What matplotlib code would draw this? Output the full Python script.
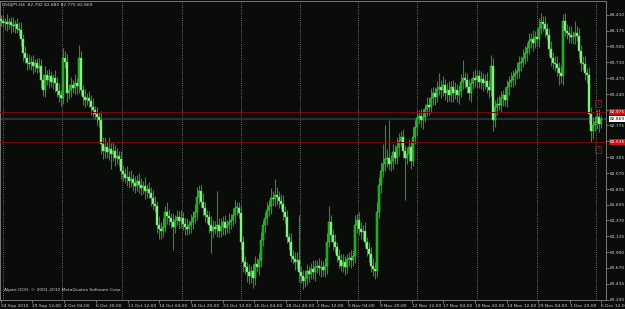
import numpy as np
import matplotlib.pyplot as plt

# USDJPY H4 candles (close per bar, open = previous close)
first_open = 84.35
closes = [
    84.32, 84.29, 84.31, 84.27, 84.30, 84.26, 84.24, 84.27, 84.21, 84.19,
    84.05, 83.85, 83.78, 83.70, 83.68, 83.72, 83.66, 83.70, 83.63, 83.66,
    83.45, 83.30, 83.52, 83.45, 83.50, 83.42, 83.48, 83.40, 83.28, 83.22,
    83.18, 83.78, 83.72, 83.25, 83.30, 83.38, 83.33, 83.40, 83.36, 83.78,
    83.30, 83.20, 83.15, 83.18, 83.14, 83.05, 83.00, 82.95, 82.90, 82.85,
    82.50, 82.40, 82.45, 82.38, 82.42, 82.35, 82.40, 82.30, 82.33, 82.28,
    82.10, 82.05, 82.00, 82.02, 81.95, 81.98, 81.92, 81.88, 81.95, 81.90,
    81.85, 81.88, 81.80, 81.84, 81.78, 81.70, 81.62, 81.58, 81.30, 81.25,
    81.22, 81.28, 81.50, 81.44, 81.40, 81.35, 81.28, 81.38, 81.42, 81.36,
    81.40, 81.32, 81.28, 81.25, 81.30, 81.35, 81.42, 81.50, 81.72, 81.80,
    81.65, 81.55, 81.45, 81.42, 81.30, 81.22, 81.28, 81.25, 81.30, 81.22,
    81.28, 81.35, 81.26, 81.30, 81.35, 81.38, 81.45, 81.55, 81.55, 81.48,
    81.05, 80.75, 80.68, 80.60, 80.55, 80.62, 80.52, 80.72, 80.68, 80.78,
    81.08, 81.30, 81.40, 81.52, 81.58, 81.70, 81.68, 81.75, 81.72, 81.66,
    81.62, 81.50, 81.42, 81.12, 81.05, 80.85, 80.80, 80.75, 80.78, 80.60,
    80.55, 80.48, 80.52, 80.62, 80.58, 80.65, 80.60, 80.68, 80.70, 80.66,
    80.68, 80.64, 80.70, 81.05, 81.35, 81.15, 81.05, 80.98, 80.85, 80.78,
    80.70, 80.75, 80.68, 80.80, 80.82, 80.78, 80.84, 81.30, 81.38, 81.25,
    81.20, 81.22, 81.05, 80.95, 80.88, 80.70, 80.65, 80.62, 81.50, 81.90,
    82.10, 82.20, 82.28, 82.30, 82.20, 82.25, 82.38, 82.30, 82.45, 82.55,
    82.60, 82.40, 82.30, 82.35, 82.45, 82.25, 82.60, 82.75, 82.88, 82.92,
    82.85, 82.90, 83.02, 83.08, 83.05, 83.18, 83.25, 83.20, 83.32, 83.35,
    83.30, 83.38, 83.25, 83.30, 83.22, 83.35, 83.25, 83.30, 83.22, 83.28,
    83.42, 83.48, 83.45, 83.35, 83.25, 83.40, 83.48, 83.45, 83.50, 83.42,
    83.46, 83.40, 83.44, 83.35, 83.30, 83.65, 82.85, 83.05, 83.10, 83.08,
    83.18, 83.22, 83.15, 83.35, 83.42, 83.45, 83.50, 83.55, 83.58, 83.70,
    83.72, 83.78, 83.85, 83.92, 84.02, 84.05, 84.00, 84.08, 84.05, 84.22,
    84.30, 84.28, 84.20, 84.12, 83.90, 83.78, 83.70, 83.68, 83.62, 83.55,
    83.50, 84.32, 84.18, 84.15, 84.12, 84.08, 84.10, 84.14, 84.10, 83.88,
    83.70, 83.68, 83.55, 83.52, 82.95, 82.70, 82.78, 82.82, 82.90, 82.80, 82.869,
]
# wick lengths above / below the body, in hundredths of a yen
up_wick = [
    6, 9, 5, 11, 7, 8, 12, 6, 9, 10,
    12, 8, 10, 7, 13, 9, 10, 6, 8, 12,
    10, 9, 14, 7, 11, 8, 6, 12, 9, 13,
    8, 14, 10, 12, 9, 11, 7, 13, 8, 19,
    10, 8, 12, 7, 11, 9, 13, 6, 10, 8,
    14, 10, 16, 9, 18, 10, 13, 8, 11, 7,
    12, 9, 10, 16, 8, 13, 7, 11, 9, 12,
    10, 8, 13, 7, 10, 9, 12, 11, 8, 14,
    10, 12, 9, 15, 10, 8, 13, 7, 11, 9,
    12, 10, 8, 13, 7, 11, 9, 12, 14, 10,
    9, 12, 10, 7, 9, 13, 10, 8, 50, 10,
    12, 9, 10, 7, 13, 8, 10, 12, 9, 10,
    12, 9, 10, 7, 12, 8, 10, 13, 9, 11,
    12, 8, 10, 12, 9, 15, 10, 24, 12, 8,
    10, 12, 9, 11, 7, 13, 9, 10, 12, 67,
    10, 8, 12, 10, 7, 9, 13, 10, 8, 12,
    10, 9, 12, 14, 23, 10, 9, 12, 7, 10,
    9, 12, 10, 7, 8, 12, 10, 15, 9, 12,
    10, 8, 13, 7, 10, 9, 12, 10, 15, 12,
    14, 30, 50, 12, 55, 9, 12, 10, 15, 12,
    10, 12, 9, 10, 13, 8, 15, 10, 12, 9,
    10, 12, 8, 11, 12, 15, 10, 9, 12, 20,
    10, 12, 9, 10, 13, 8, 10, 12, 9, 10,
    12, 26, 9, 10, 12, 8, 10, 13, 9, 10,
    12, 9, 10, 13, 8, 17, 12, 10, 9, 12,
    10, 8, 12, 10, 9, 12, 10, 8, 13, 10,
    9, 12, 10, 8, 12, 10, 14, 9, 12, 15,
    14, 10, 12, 9, 10, 12, 8, 10, 12, 9,
    10, 10, 12, 9, 10, 12, 8, 18, 10, 12,
    9, 10, 12, 8, 12, 10, 12, 9, 10, 12, 6,
]
dn_wick = [
    8, 6, 10, 9, 6, 12, 8, 10, 7, 9,
    10, 12, 8, 10, 7, 9, 12, 10, 8, 7,
    12, 9, 10, 7, 12, 8, 10, 13, 9, 10,
    12, 8, 10, 12, 9, 10, 7, 9, 12, 10,
    8, 12, 10, 7, 9, 12, 10, 8, 12, 10,
    15, 12, 10, 9, 12, 22, 10, 12, 9, 10,
    12, 10, 8, 12, 10, 9, 12, 10, 8, 12,
    10, 9, 12, 10, 8, 12, 10, 9, 12, 15,
    12, 10, 8, 12, 10, 9, 35, 10, 8, 12,
    10, 9, 12, 10, 8, 12, 10, 9, 12, 10,
    8, 12, 10, 9, 12, 33, 10, 8, 12, 10,
    9, 12, 10, 8, 12, 10, 9, 12, 10, 8,
    12, 15, 10, 14, 12, 10, 15, 10, 8, 12,
    10, 9, 12, 10, 8, 12, 10, 9, 12, 10,
    8, 12, 10, 9, 12, 10, 8, 12, 10, 14,
    10, 12, 9, 10, 12, 8, 10, 12, 9, 10,
    12, 9, 10, 12, 8, 10, 12, 9, 10, 12,
    8, 10, 12, 9, 10, 12, 8, 10, 12, 9,
    10, 12, 8, 10, 12, 9, 10, 12, 8, 10,
    12, 9, 10, 12, 8, 10, 12, 9, 10, 12,
    8, 10, 63, 9, 10, 12, 8, 10, 12, 9,
    10, 12, 8, 10, 12, 9, 10, 12, 8, 10,
    12, 9, 10, 12, 8, 10, 12, 9, 10, 12,
    8, 10, 12, 9, 10, 12, 8, 10, 12, 9,
    10, 12, 8, 10, 12, 9, 15, 10, 12, 8,
    10, 12, 9, 10, 12, 8, 10, 12, 9, 10,
    12, 8, 10, 12, 9, 10, 12, 8, 10, 12,
    9, 10, 12, 8, 10, 12, 9, 10, 12, 17,
    10, 12, 8, 10, 12, 9, 10, 12, 8, 10,
    12, 9, 10, 12, 15, 17, 12, 8, 10, 12, 6,
]

price_ticks = [84.410, 84.175, 83.945, 83.710, 83.475, 83.240, 83.005, 82.775,
               82.540, 82.305, 82.070, 81.835, 81.605, 81.370, 81.135, 80.900,
               80.670, 80.435, 80.200]
hidden_ticks = [83.005, 82.540]  # covered by the alert price boxes
time_labels = ["24 Sep 2010", "29 Sep 12:00", "4 Oct 04:00", "6 Oct 20:00",
               "11 Oct 12:00", "14 Oct 04:00", "18 Oct 20:00", "21 Oct 12:00",
               "26 Oct 04:00", "28 Oct 20:00", "2 Nov 12:00", "5 Nov 04:00",
               "9 Nov 20:00", "12 Nov 12:00", "17 Nov 04:00", "19 Nov 20:00",
               "24 Nov 12:00", "29 Nov 04:00", "1 Dec 20:00", "6 Dec 12:00"]
time_label_bars = [0, 15.5, 31.5, 47.5, 63.5, 79, 95, 111, 126.5, 142.5, 158,
                   173.5, 189.5, 205.5, 221, 237, 253, 268.5, 284.5, 300]
week_start_bars = [1, 30.5, 60.5, 90.5, 120, 149.5, 178.5, 208, 238, 268, 297.5]

alert_high = 82.975
alert_low = 82.535
bid = 82.869
title = "USDJPY,H4  82.792 82.880 82.775 82.869"

bg = "#090c09"
txt = "#cfd3cf"

c = np.array(closes)
o = np.concatenate([[first_open], c[:-1]])
hi = np.maximum(o, c) + np.array(up_wick) / 100
lo = np.minimum(o, c) - np.array(dn_wick) / 100
x = np.arange(len(c))
bull = c >= o

fig = plt.figure(figsize=(6.25, 3.09), dpi=100, facecolor=bg)
ax = fig.add_axes([0, 9 / 309, 606 / 625, 299 / 309], facecolor=bg)

# weekly grid
for g in week_start_bars:
    ax.axvline(g, color="#8c8c8c", lw=0.6, ls=(0, (1, 1.6)), zorder=1)

ax.axhline(bid, color="#2a2f33", lw=1.6, zorder=1)
ax.axhline(alert_high, color="#780808", lw=0.7, zorder=4)
ax.axhline(alert_low, color="#780808", lw=0.7, zorder=4)

ax.vlines(x, lo, hi, color="#14a014", lw=0.8, zorder=2)
body_h = np.maximum(np.abs(c - o), 0.015)
ax.bar(x[bull], body_h[bull], bottom=np.minimum(o, c)[bull], width=0.95,
       color="#1f9a1f", edgecolor="#44e044", linewidth=0.3, zorder=3)
ax.bar(x[~bull], body_h[~bull], bottom=np.minimum(o, c)[~bull], width=0.95,
       color="#9cee9c", edgecolor="#44e044", linewidth=0.3, zorder=3)

ax.set_xlim(-0.5, 302.5)
ax.set_ylim(80.193, 84.617)

ax.yaxis.tick_right()
ax.set_yticks(price_ticks)
ax.set_yticklabels(["" if p in hidden_ticks else "%.3f" % p for p in price_ticks])
ax.set_xticks(time_label_bars)
ax.set_xticklabels(time_labels)
for lab in ax.get_xticklabels():
    lab.set_ha("left")
ax.tick_params(axis="both", colors="#9a9a9a", labelcolor=txt, labelsize=3.2,
               length=2, width=0.5, pad=1)
for s in ax.spines.values():
    s.set_color("#8a8a8a")
    s.set_linewidth(0.6)

ax.text(0.004, 0.994, title, transform=ax.transAxes, va="top", ha="left",
        fontsize=3.2, color=txt)
ax.text(0.006, 0.028, "Alpari ООО, © 2001-2010 MetaQuotes Software Corp.",
        transform=ax.transAxes, va="bottom", ha="left", fontsize=3.2, color=txt)

# price labels on the right axis
tr = ax.get_yaxis_transform()
for val, fc, tc in [(alert_high, "#d01010", "#ffffff"),
                    (alert_low, "#d01010", "#ffffff"),
                    (bid, "#ffffff", "#000000")]:
    ax.text(1.006, val, "%.3f" % val, transform=tr, va="center", ha="left",
            fontsize=3.2, color=tc, clip_on=False, zorder=6,
            bbox=dict(boxstyle="square,pad=0.25", fc=fc, ec="none"))

# alert arrows
ax.text(297.5, 83.10, "⇧", ha="left", va="center", fontsize=4, color="#d01010",
        zorder=6, bbox=dict(boxstyle="square,pad=0.15", fc="none", ec="#a01010", lw=0.6))
ax.text(297.5, 82.42, "⇩", ha="left", va="center", fontsize=4, color="#d01010",
        zorder=6, bbox=dict(boxstyle="square,pad=0.15", fc="none", ec="#a01010", lw=0.6))

fig.savefig("out.png", dpi=100, facecolor=bg)
